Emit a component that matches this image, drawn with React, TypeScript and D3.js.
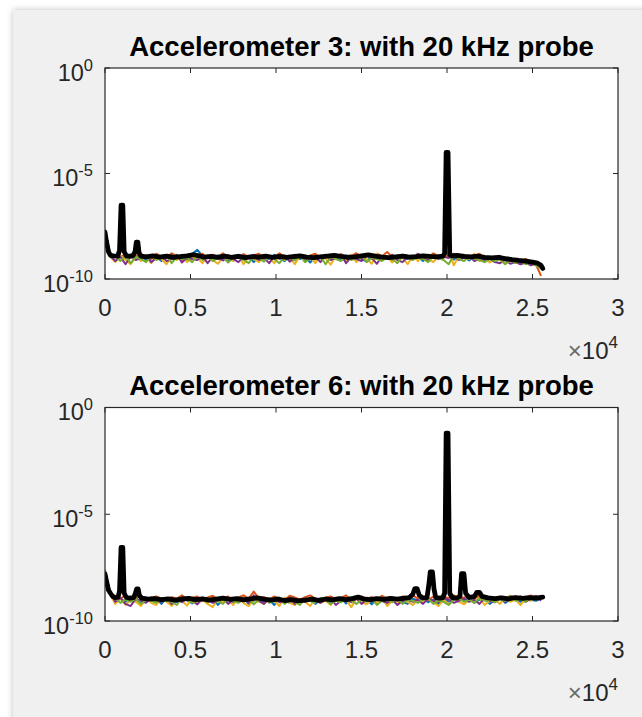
import React from "react";
import * as d3 from "d3";

// ---- data (log10 of amplitude) ----
const FREQ = [0,300,600,900,1200,1500,1800,2100,2400,2700,3000,3300,3600,3900,4200,4500,4800,5100,5400,5700,6000,6300,6600,6900,7200,7500,7800,8100,8400,8700,9000,9300,9600,9900,10200,10500,10800,11100,11400,11700,12000,12300,12600,12900,13200,13500,13800,14100,14400,14700,15000,15300,15600,15900,16200,16500,16800,17100,17400,17700,18000,18300,18600,18900,19200,19500,19800,20100,20400,20700,21000,21300,21600,21900,22200,22500,22800,23100,23400,23700,24000,24300,24600,24900,25200,25500];

const X_TICKS = [0, 5000, 10000, 15000, 20000, 25000, 30000];
const X_TICK_LABELS = ["0", "0.5", "1", "1.5", "2", "2.5", "3"];
const Y_TICKS = [0, -5, -10];
const TITLES = ["Accelerometer 3: with 20 kHz probe", "Accelerometer 6: with 20 kHz probe"];
const SERIES_COLORS = ["#0072BD", "#D95319", "#EDB120", "#7E2F8E", "#77AC30"];

const a3Blue = [-7.75,-8.80,-8.95,-8.90,-9.05,-8.85,-8.98,-8.90,-9.10,-8.88,-8.95,-9.15,-8.90,-8.85,-9.00,-8.92,-9.12,-8.80,-8.62,-8.90,-8.95,-9.05,-8.88,-9.00,-9.18,-8.92,-8.85,-9.02,-8.95,-9.20,-8.90,-8.98,-9.05,-8.85,-9.00,-9.15,-8.92,-8.88,-9.05,-8.95,-9.22,-8.90,-8.98,-8.84,-9.02,-8.95,-9.10,-8.88,-9.00,-8.93,-9.05,-9.18,-8.90,-8.86,-9.00,-8.95,-9.12,-8.92,-8.98,-9.05,-8.90,-8.95,-9.15,-8.88,-9.00,-8.94,-8.90,-8.92,-9.08,-8.90,-8.95,-9.12,-8.88,-8.95,-9.05,-9.00,-9.18,-9.02,-9.08,-9.00,-9.12,-9.20,-9.10,-9.25,-9.22,-9.40];
const a3Orange = [-7.85,-8.90,-8.88,-8.95,-8.85,-9.00,-8.90,-8.82,-8.95,-9.05,-8.80,-8.95,-9.00,-8.78,-8.92,-9.10,-8.85,-8.95,-8.88,-8.80,-9.02,-8.85,-8.95,-8.78,-9.05,-8.90,-9.00,-8.82,-8.95,-8.88,-8.80,-9.05,-8.92,-8.98,-8.78,-8.95,-9.02,-8.85,-8.92,-9.08,-8.88,-8.80,-9.00,-8.95,-8.85,-9.05,-8.82,-8.98,-8.90,-8.78,-8.95,-8.85,-9.05,-8.80,-8.92,-8.72,-8.95,-9.00,-8.85,-8.90,-8.95,-8.82,-8.90,-9.00,-8.78,-8.92,-8.88,-8.95,-8.80,-8.90,-8.85,-9.00,-8.92,-8.80,-9.05,-8.95,-9.00,-8.90,-9.10,-9.05,-9.08,-9.15,-9.05,-9.20,-9.30,-9.85];
const a3Yellow = [-7.90,-8.95,-9.20,-8.90,-9.10,-9.30,-8.95,-9.15,-8.90,-9.25,-8.95,-9.05,-9.30,-8.90,-9.10,-8.85,-9.20,-8.95,-9.00,-9.25,-8.88,-9.10,-9.28,-8.95,-9.00,-9.15,-8.85,-9.30,-8.98,-9.05,-9.20,-8.90,-9.00,-9.25,-8.85,-9.10,-8.95,-9.30,-8.90,-9.05,-8.95,-9.25,-8.88,-9.05,-9.32,-8.90,-9.00,-9.15,-8.85,-9.20,-8.92,-9.05,-9.28,-8.80,-9.10,-8.95,-9.22,-8.88,-9.00,-9.30,-8.90,-9.15,-8.85,-9.05,-9.20,-8.92,-9.00,-8.70,-9.35,-8.90,-8.95,-9.05,-8.80,-9.15,-9.00,-9.22,-9.05,-9.10,-9.25,-9.08,-9.15,-9.30,-9.12,-9.20,-9.35,-9.40];
const a3Purple = [-7.70,-8.90,-9.15,-8.95,-9.30,-8.92,-9.10,-9.00,-8.88,-9.20,-9.00,-8.90,-9.15,-9.05,-8.85,-9.22,-8.98,-9.05,-9.10,-8.92,-9.25,-8.95,-9.00,-9.12,-8.88,-9.05,-9.20,-8.95,-9.02,-8.85,-9.10,-9.00,-9.25,-8.92,-9.05,-8.88,-9.18,-9.00,-8.90,-9.15,-9.02,-8.95,-9.20,-8.88,-9.10,-9.00,-8.85,-9.25,-8.95,-9.05,-9.15,-8.90,-9.00,-9.28,-8.92,-9.05,-8.85,-9.10,-9.20,-8.95,-9.05,-8.80,-9.00,-9.12,-8.90,-9.05,-8.95,-9.00,-8.92,-9.10,-9.00,-8.90,-9.15,-9.05,-9.10,-9.02,-9.20,-9.25,-9.10,-9.28,-9.20,-9.30,-9.22,-9.35,-9.28,-9.45];
const a3Green = [-7.65,-8.85,-8.92,-9.15,-8.90,-9.25,-8.95,-9.05,-9.20,-8.90,-9.10,-9.00,-8.88,-9.25,-8.95,-9.05,-9.00,-9.20,-8.92,-9.10,-8.95,-9.15,-9.00,-8.90,-9.22,-9.00,-8.95,-9.10,-9.25,-8.92,-9.00,-9.18,-8.90,-9.05,-9.25,-8.95,-9.00,-9.12,-8.88,-9.20,-9.00,-9.08,-8.92,-9.30,-8.95,-9.05,-9.15,-8.90,-9.10,-9.00,-8.88,-9.20,-9.00,-9.05,-9.15,-8.95,-9.05,-9.25,-8.92,-9.00,-9.10,-8.95,-9.05,-9.20,-8.90,-9.00,-9.10,-9.30,-8.85,-9.05,-9.15,-8.92,-9.05,-9.10,-9.20,-9.05,-9.15,-9.08,-9.30,-9.12,-9.25,-9.15,-9.30,-9.22,-9.35,-9.50];

const a6Blue = [-7.75,-8.60,-9.05,-8.95,-9.10,-8.92,-9.00,-9.15,-8.90,-9.05,-8.95,-9.20,-8.92,-9.00,-9.12,-8.88,-9.05,-9.18,-8.95,-9.00,-9.10,-8.90,-9.25,-9.00,-8.95,-9.12,-9.00,-8.92,-9.20,-9.05,-8.95,-9.10,-9.00,-9.25,-8.90,-9.05,-9.15,-8.95,-9.00,-9.10,-8.92,-9.20,-9.00,-8.95,-9.12,-9.05,-8.90,-9.18,-9.00,-8.95,-9.10,-9.00,-9.22,-8.92,-9.05,-9.15,-8.95,-9.00,-9.10,-9.20,-8.95,-9.05,-8.90,-9.12,-9.00,-9.20,-8.95,-9.10,-9.00,-8.92,-9.05,-8.90,-9.15,-9.00,-8.95,-9.20,-9.00,-8.90,-9.15,-9.00,-8.95,-9.10,-8.88,-9.00,-9.05,-8.95];
const a6Orange = [-7.85,-8.70,-8.85,-8.95,-8.80,-9.00,-8.90,-8.85,-9.05,-8.92,-8.85,-8.95,-9.02,-8.88,-8.95,-8.80,-9.00,-8.92,-8.85,-9.05,-8.90,-8.82,-8.98,-8.95,-8.85,-9.05,-8.90,-8.80,-8.95,-8.62,-8.95,-8.88,-9.00,-8.85,-8.95,-9.05,-8.82,-8.90,-9.00,-8.88,-8.80,-8.95,-9.05,-8.90,-8.85,-8.98,-8.92,-8.80,-9.02,-8.90,-8.85,-8.95,-8.88,-9.00,-8.82,-8.95,-8.90,-9.05,-8.85,-8.92,-8.80,-8.95,-8.90,-9.02,-8.85,-8.95,-8.88,-8.92,-8.80,-8.95,-8.90,-8.85,-8.95,-8.80,-9.00,-8.88,-8.92,-8.85,-8.95,-8.82,-8.90,-8.85,-8.95,-8.80,-8.88,-8.92];
const a6Yellow = [-7.90,-8.75,-9.20,-8.95,-9.25,-9.00,-9.10,-9.30,-8.95,-9.15,-9.25,-8.92,-9.10,-9.30,-8.95,-9.05,-9.28,-8.90,-9.15,-9.00,-9.20,-9.35,-8.95,-9.10,-9.00,-9.25,-8.92,-9.15,-9.30,-9.00,-9.10,-9.20,-8.95,-9.05,-9.30,-8.90,-9.15,-9.25,-9.00,-9.10,-9.30,-8.95,-9.15,-9.05,-9.25,-8.92,-9.10,-9.00,-9.35,-8.95,-9.10,-9.22,-9.00,-9.15,-8.92,-9.30,-9.05,-9.20,-8.95,-9.10,-9.25,-9.00,-9.15,-8.90,-9.10,-9.30,-9.00,-9.20,-8.95,-9.10,-9.22,-9.00,-9.15,-8.90,-9.25,-9.05,-9.00,-9.20,-8.88,-9.10,-9.00,-9.25,-8.95,-9.05,-8.85,-9.00];
const a6Purple = [-7.70,-8.65,-9.10,-8.92,-9.20,-9.30,-8.95,-9.05,-9.15,-8.90,-9.05,-9.10,-8.95,-9.20,-9.00,-9.12,-8.92,-9.05,-9.22,-8.95,-9.00,-9.15,-9.05,-8.92,-9.20,-9.00,-9.10,-8.95,-9.15,-8.80,-9.05,-9.20,-8.95,-9.00,-9.12,-9.05,-8.92,-9.20,-9.00,-9.10,-8.95,-9.05,-9.15,-9.00,-8.92,-9.25,-9.05,-9.00,-9.12,-8.95,-9.20,-9.00,-9.10,-8.92,-9.05,-9.15,-9.00,-9.25,-9.05,-8.95,-9.10,-9.00,-9.20,-8.95,-9.05,-9.12,-8.92,-9.00,-9.15,-9.05,-8.95,-9.10,-9.00,-9.20,-8.92,-9.05,-9.12,-8.88,-9.10,-8.85,-9.00,-8.85,-9.10,-8.95,-8.82,-9.05];
const a6Green = [-7.60,-8.70,-8.92,-9.15,-9.00,-9.10,-8.95,-9.20,-9.00,-9.05,-9.15,-8.95,-9.05,-9.10,-9.25,-8.92,-9.00,-9.15,-9.05,-8.90,-9.12,-9.00,-9.08,-9.20,-8.95,-9.05,-9.15,-9.00,-8.92,-9.22,-9.00,-8.95,-9.15,-9.05,-8.90,-9.20,-9.00,-9.10,-9.25,-8.95,-9.05,-9.15,-8.92,-9.00,-9.20,-9.05,-9.12,-8.95,-9.05,-9.20,-9.00,-9.10,-8.95,-9.25,-9.05,-9.00,-9.12,-8.92,-9.20,-9.00,-9.05,-9.15,-9.00,-8.95,-9.20,-9.05,-9.10,-9.25,-9.00,-8.95,-9.10,-9.00,-9.15,-8.92,-9.05,-9.00,-9.12,-8.95,-9.05,-8.82,-9.05,-8.95,-9.10,-8.85,-9.00,-8.92];

// black (mean) traces as [frequency, log10 amplitude]
const a3Black: [number, number][] = [[0,-7.78],[80,-8.2],[200,-8.7],[320,-8.88],[500,-8.9],[740,-8.92],[850,-8.65],[940,-6.5],[1040,-6.5],[1120,-8.7],[1250,-8.9],[1450,-8.92],[1650,-8.88],[1760,-8.7],[1830,-8.25],[1920,-8.25],[1990,-8.75],[2100,-8.92],[2400,-8.95],[2800,-8.9],[3200,-8.96],[3600,-8.92],[4000,-8.98],[4400,-8.94],[4800,-8.9],[5200,-8.85],[5500,-8.9],[5800,-8.96],[6200,-8.93],[6600,-8.98],[7000,-8.92],[7400,-8.97],[7800,-8.93],[8200,-8.99],[8600,-8.94],[9000,-8.96],[9400,-8.92],[9800,-8.97],[10200,-8.93],[10600,-8.98],[11000,-8.94],[11400,-8.9],[11800,-8.96],[12200,-8.99],[12600,-8.95],[13000,-8.92],[13400,-8.88],[13800,-8.93],[14200,-8.97],[14600,-8.95],[15000,-8.9],[15400,-8.86],[15800,-8.92],[16200,-8.96],[16600,-8.99],[17000,-8.95],[17400,-8.92],[17800,-8.96],[18200,-8.94],[18600,-8.9],[19000,-8.93],[19400,-8.95],[19750,-8.92],[19860,-8.8],[19950,-4.0],[20060,-4.0],[20160,-8.85],[20300,-8.9],[20600,-8.88],[21000,-8.93],[21400,-8.95],[21800,-8.92],[22200,-8.97],[22600,-9.0],[23000,-8.98],[23400,-9.03],[23800,-9.08],[24200,-9.12],[24600,-9.15],[25000,-9.2],[25300,-9.25],[25500,-9.35],[25600,-9.5]];
const a6Black: [number, number][] = [[0,-7.8],[80,-8.1],[200,-8.55],[320,-8.7],[450,-8.85],[600,-8.9],[760,-8.88],[850,-8.6],[940,-6.55],[1040,-6.55],[1120,-8.7],[1250,-8.9],[1450,-8.93],[1680,-8.9],[1780,-8.7],[1850,-8.5],[1940,-8.5],[2010,-8.8],[2150,-8.93],[2500,-8.98],[2900,-8.95],[3300,-9.0],[3700,-8.96],[4100,-9.02],[4500,-8.97],[4900,-8.94],[5300,-9.0],[5700,-8.96],[6100,-9.02],[6500,-8.97],[6900,-8.93],[7300,-8.99],[7700,-8.95],[8100,-9.01],[8500,-8.96],[8900,-8.92],[9300,-8.98],[9700,-9.02],[10100,-8.97],[10500,-9.04],[10900,-9.0],[11300,-9.06],[11700,-9.02],[12100,-8.98],[12500,-9.03],[12900,-8.97],[13300,-9.01],[13700,-8.95],[14100,-9.0],[14500,-8.94],[14800,-8.88],[15100,-8.96],[15500,-9.0],[15900,-8.95],[16300,-8.99],[16700,-8.94],[17100,-8.98],[17500,-8.93],[17800,-8.9],[18000,-8.75],[18120,-8.48],[18250,-8.48],[18380,-8.8],[18600,-8.92],[18830,-8.9],[18940,-8.3],[19020,-7.7],[19150,-7.7],[19240,-8.5],[19340,-8.9],[19550,-8.93],[19760,-8.9],[19860,-8.7],[19950,-1.2],[20060,-1.2],[20160,-8.7],[20300,-8.9],[20550,-8.93],[20760,-8.85],[20850,-7.78],[20990,-7.78],[21090,-8.7],[21300,-8.9],[21600,-8.85],[21740,-8.66],[21900,-8.66],[22050,-8.85],[22400,-8.92],[22800,-8.95],[23200,-8.92],[23600,-8.96],[24000,-8.9],[24400,-8.94],[24800,-8.9],[25200,-8.93],[25600,-8.88]];

const PANELS = [
  { title: TITLES[0], top: 68, bottom: 279, series: [a3Blue, a3Orange, a3Yellow, a3Purple, a3Green], black: a3Black },
  { title: TITLES[1], top: 407.5, bottom: 621, series: [a6Blue, a6Orange, a6Yellow, a6Purple, a6Green], black: a6Black },
];

const LEFT = 105;
const RIGHT = 618;
const FONT = "'Liberation Sans', Arial, Helvetica, sans-serif";
const TXT = "#262626";

function Panel({ p, idx }: { p: typeof PANELS[number]; idx: number }) {
  const x = d3.scaleLinear().domain([0, 30000]).range([LEFT, RIGHT]);
  const y = d3.scaleLog().domain([1e-10, 1]).range([p.bottom, p.top]);
  const line = d3
    .line<[number, number]>()
    .x((d) => x(d[0]))
    .y((d) => y(Math.pow(10, d[1])));
  const clipId = `clip${idx}`;
  return (
    <g>
      <defs>
        <clipPath id={clipId}>
          <rect x={LEFT} y={p.top} width={RIGHT - LEFT} height={p.bottom - p.top} />
        </clipPath>
      </defs>
      <rect x={LEFT} y={p.top} width={RIGHT - LEFT} height={p.bottom - p.top} fill="#fff" />
      <g clipPath={`url(#${clipId})`}>
        {p.series.map((vals, i) => (
          <path
            key={i}
            d={line(vals.map((v, j) => [FREQ[j], v] as [number, number])) || ""}
            fill="none"
            stroke={SERIES_COLORS[i]}
            strokeWidth={2}
            strokeLinejoin="round"
          />
        ))}
        <path
          d={line(p.black) || ""}
          fill="none"
          stroke="#000"
          strokeWidth={4.8}
          strokeLinejoin="round"
          strokeLinecap="round"
        />
      </g>
      {/* box */}
      <rect x={LEFT} y={p.top} width={RIGHT - LEFT} height={p.bottom - p.top} fill="none" stroke={TXT} strokeWidth={1.2} />
      {/* x ticks */}
      {X_TICKS.map((t) => (
        <g key={t}>
          <line x1={x(t)} x2={x(t)} y1={p.bottom} y2={p.bottom - 5} stroke={TXT} strokeWidth={1} />
          <line x1={x(t)} x2={x(t)} y1={p.top} y2={p.top + 5} stroke={TXT} strokeWidth={1} />
        </g>
      ))}
      {X_TICKS.map((t, i) => (
        <text key={"l" + t} x={x(t)} y={p.bottom + 36.5} textAnchor="middle" fontFamily={FONT} fontSize={24} fill={TXT}>
          {X_TICK_LABELS[i]}
        </text>
      ))}
      {/* y ticks */}
      {Y_TICKS.map((e) => (
        <g key={"y" + e}>
          <line x1={LEFT} x2={LEFT + 5} y1={y(Math.pow(10, e))} y2={y(Math.pow(10, e))} stroke={TXT} strokeWidth={1} />
          <line x1={RIGHT} x2={RIGHT - 5} y1={y(Math.pow(10, e))} y2={y(Math.pow(10, e))} stroke={TXT} strokeWidth={1} />
          <text x={93} y={y(Math.pow(10, e)) + 12.5} textAnchor="end" fontFamily={FONT} fontSize={23.5} fill={TXT}>
            <tspan>10</tspan>
            <tspan dy={-10} fontSize={16.5}>{String(e)}</tspan>
          </text>
        </g>
      ))}
      {/* exponent */}
      <text x={RIGHT} y={p.bottom + 80} textAnchor="end" fontFamily={FONT} fontSize={24} fill={TXT}>
        <tspan fill="#6a6a6a">×</tspan>
        <tspan>10</tspan>
        <tspan dy={-11} fontSize={17}>4</tspan>
      </text>
      {/* title */}
      <text x={(LEFT + RIGHT) / 2} y={p.top - 12.5} textAnchor="middle" fontFamily={FONT} fontSize={27.5} fontWeight="bold" fill="#000">
        {p.title}
      </text>
    </g>
  );
}

export default function App() {
  return (
    <svg width={642} height={717} style={{ position: "absolute", left: 0, top: 0, display: "block" }}>
      <defs>
        <filter id="shadow" x="-5%" y="-5%" width="110%" height="110%">
          <feDropShadow dx="0" dy="0" stdDeviation="3" floodColor="#000" floodOpacity="0.25" />
        </filter>
      </defs>
      <rect x={0} y={0} width={642} height={717} fill="#fff" />
      <rect x={13} y={10} width={660} height={740} fill="#f0f0f0" filter="url(#shadow)" />
      {PANELS.map((p, i) => (
        <Panel key={i} p={p} idx={i} />
      ))}
    </svg>
  );
}
